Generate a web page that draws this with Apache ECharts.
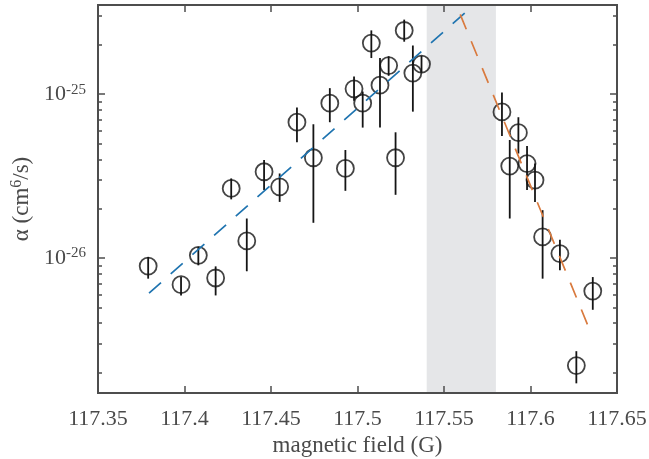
<!DOCTYPE html>
<html>
<head>
<meta charset="utf-8">
<script src="https://cdn.jsdelivr.net/npm/echarts@6/dist/echarts.min.js"></script>
<style>html,body{margin:0;padding:0;background:#fff;}#c{width:649px;height:459px;}</style>
</head>
<body>
<div id="c"></div>
<script>
// magnetic field (G)
const fieldG = [117.379, 117.398, 117.408, 117.418, 117.427, 117.436, 117.446, 117.455, 117.465, 117.4745,
  117.484, 117.493, 117.498, 117.503, 117.508, 117.513, 117.518, 117.522, 117.527, 117.532, 117.537,
  117.5835, 117.588, 117.593, 117.598, 117.6026, 117.607, 117.617, 117.6265, 117.636];
// alpha (cm^6/s)
const alphaVal = [8.93e-27, 6.87e-27, 1.039e-26, 7.55e-27, 2.66e-26, 1.271e-26, 3.36e-26, 2.72e-26, 6.74e-26, 4.09e-26,
  8.81e-26, 3.52e-26, 1.077e-25, 8.81e-26, 2.05e-25, 1.135e-25, 1.494e-25, 4.09e-26, 2.446e-25, 1.345e-25, 1.526e-25,
  7.79e-26, 3.64e-26, 5.82e-26, 3.77e-26, 2.99e-26, 1.344e-26, 1.064e-26, 2.204e-27, 6.28e-27];
const alphaHigh = [1.014e-26, 7.65e-27, 1.168e-26, 8.89e-27, 3.06e-26, 1.742e-26, 3.96e-26, 3.28e-26, 8.28e-26, 6.55e-26,
  1.088e-25, 4.56e-26, 1.281e-25, 1.037e-25, 2.45e-25, 1.661e-25, 1.703e-25, 5.85e-26, 2.85e-25, 1.981e-25, 1.713e-25,
  1.023e-25, 5.25e-26, 7.23e-26, 4.83e-26, 3.78e-26, 1.959e-26, 1.292e-26, 2.70e-27, 7.65e-27];
const alphaLow = [7.48e-27, 5.91e-27, 9.02e-27, 5.91e-27, 2.28e-26, 8.3e-27, 2.6e-26, 2.2e-26, 5.08e-26, 1.64e-26,
  6.74e-26, 2.57e-26, 9.1e-26, 6.25e-26, 1.661e-25, 6.26e-26, 1.294e-25, 2.43e-26, 2.09e-25, 7.82e-26, 1.36e-25,
  5.56e-26, 1.742e-26, 4.34e-26, 2.6e-26, 2.2e-26, 7.48e-27, 8.41e-27, 1.718e-27, 4.83e-27];
// fit lines
const fitLowX = [117.3795, 117.58];
const fitLowY = [6.1e-27, 4.61e-25];
const fitHighX = [117.553, 117.6346];
const fitHighY = [4.47e-25, 3.56e-27];
// shaded band
const bandX = [117.54, 117.58];
// axes
const xTicks = [117.35, 117.4, 117.45, 117.5, 117.55, 117.6, 117.65];
const yMajorExp = [-26, -25];
const yRange = [1.5e-27, 3.5e-25];

const L = Math.log10;
const yMin = L(yRange[0]), yMax = L(yRange[1]);
const minorVals = [];
[-27, -26, -25].forEach(n => { for (let k = 2; k <= 9; k++) { const v = n + L(k); if (v > yMin && v < yMax) minorVals.push(v); } });

const axisColor = '#4d4d4d';
const textColor = '#4a4a4a';
const font = 'Liberation Serif';

function yAx(pos, custom, len, labels) {
  return {
    type: 'value', position: pos, min: yMin, max: yMax, z: 10,
    axisLine: { show: true, lineStyle: { color: axisColor, width: 2 } },
    axisTick: { show: true, inside: true, length: len, customValues: custom, lineStyle: { color: axisColor, width: 1.5 } },
    splitLine: { show: false },
    axisLabel: labels ? {
      show: true, customValues: yMajorExp, margin: 12, color: textColor, fontFamily: font,
      formatter: v => '{b|10}{s|' + Math.round(v) + '}',
      rich: { b: { fontSize: 22, lineHeight: 24, fontFamily: font, color: textColor },
              s: { fontSize: 15, lineHeight: 15, verticalAlign: 'top', fontFamily: font, color: textColor } }
    } : { show: false }
  };
}

const errData = fieldG.map((x, i) => [x, L(alphaLow[i]), L(alphaHigh[i])]);
const ptData = fieldG.map((x, i) => [x, L(alphaVal[i])]);

const chart = echarts.init(document.getElementById('c'), null, { renderer: 'canvas' });
chart.setOption({
  animation: false,
  textStyle: { fontFamily: font },
  grid: { left: 98, right: 32, top: 5, bottom: 66, containLabel: false, outerBoundsMode: 'none' },
  xAxis: [
    {
      type: 'value', position: 'bottom', min: xTicks[0], max: xTicks[xTicks.length - 1], interval: 0.05, z: 10,
      axisLine: { show: true, onZero: false, lineStyle: { color: axisColor, width: 2 } },
      axisTick: { show: true, inside: true, length: 7, lineStyle: { color: axisColor, width: 1.5 } },
      splitLine: { show: false },
      axisLabel: { show: true, margin: 15, fontSize: 22, color: textColor, fontFamily: font, showMinLabel: true, showMaxLabel: true,
        formatter: v => String(+v.toFixed(2)) },
      name: 'magnetic field (G)', nameLocation: 'middle', nameGap: 41,
      nameTextStyle: { fontSize: 23, color: textColor, fontFamily: font }
    },
    {
      type: 'value', position: 'top', min: xTicks[0], max: xTicks[xTicks.length - 1], interval: 0.05, z: 10,
      axisLine: { show: true, onZero: false, lineStyle: { color: axisColor, width: 2 } },
      axisTick: { show: true, inside: true, length: 7, lineStyle: { color: axisColor, width: 1.5 } },
      splitLine: { show: false }, axisLabel: { show: false }
    }
  ],
  yAxis: [
    Object.assign(yAx('left', yMajorExp, 7, true), {
      name: '{t|α (cm}{s|6}{t|/s)}', nameLocation: 'middle', nameGap: 63, nameRotate: 90,
      nameTextStyle: { rich: {
        t: { fontSize: 23, lineHeight: 25, fontFamily: font, color: textColor },
        s: { fontSize: 16, lineHeight: 16, verticalAlign: 'top', fontFamily: font, color: textColor } } }
    }),
    yAx('left', minorVals, 4, false),
    yAx('right', yMajorExp, 7, false),
    yAx('right', minorVals, 4, false)
  ],
  series: [
    {
      type: 'line', data: [], xAxisIndex: 0, yAxisIndex: 0, silent: true,
      markArea: { silent: true, itemStyle: { color: '#e5e6e8' }, data: [[{ xAxis: bandX[0] }, { xAxis: bandX[1] }]] }
    },
    {
      type: 'custom', xAxisIndex: 0, yAxisIndex: 0, data: errData, clip: true,
      renderItem: (params, api) => {
        const p1 = api.coord([api.value(0), api.value(1)]);
        const p2 = api.coord([api.value(0), api.value(2)]);
        return { type: 'line', shape: { x1: p1[0], y1: p1[1], x2: p2[0], y2: p2[1] },
          style: { stroke: '#151515', lineWidth: 1.8 } };
      }
    },
    {
      type: 'scatter', xAxisIndex: 0, yAxisIndex: 0, data: ptData, symbol: 'circle', symbolSize: 17,
      itemStyle: { color: 'rgba(0,0,0,0)', borderColor: '#151515', borderWidth: 1.8 }
    },
    {
      type: 'line', xAxisIndex: 0, yAxisIndex: 0, data: fitLowX.map((x, i) => [x, L(fitLowY[i])]),
      symbol: 'none', clip: true, lineStyle: { color: '#1f74b0', width: 1.7, type: [16, 13] }
    },
    {
      type: 'line', xAxisIndex: 0, yAxisIndex: 0, data: fitHighX.map((x, i) => [x, L(fitHighY[i])]),
      symbol: 'none', clip: true, lineStyle: { color: '#d97a3e', width: 1.7, type: [16, 13] }
    }
  ]
});
</script>
</body>
</html>
